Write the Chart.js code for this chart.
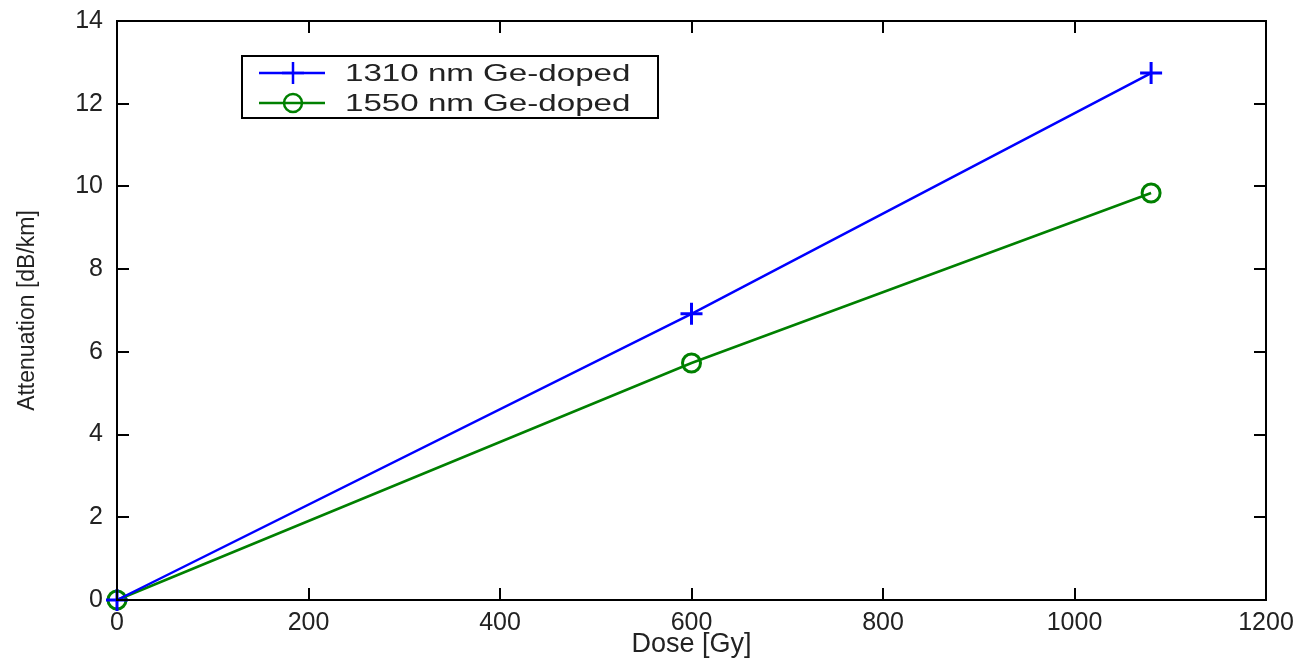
<!DOCTYPE html>
<html>
<head>
<meta charset="utf-8">
<script src="https://cdn.jsdelivr.net/npm/chart.js@4"></script>
<style>
  html, body { margin: 0; padding: 0; background: #fff; }
  #wrap { width: 1308px; height: 661px; }
</style>
</head>
<body>
<div id="wrap"><canvas id="chart"></canvas></div>
<script>
/* ===== DATA ===== */
const doses = [0, 600, 1080];
const att1310 = [0, 6.92, 12.74];
const att1550 = [0, 5.73, 9.84];
const seriesLabels = ["1310 nm Ge-doped", "1550 nm Ge-doped"];
const xTitle = "Dose [Gy]";
const yTitle = "Attenuation [dB/km]";

const FONT = "'Liberation Sans', Arial, sans-serif";
const TEXT = "#222";

function points(ys) {
  return doses.map((x, i) => ({ x, y: ys[i] }));
}

/* ===== frame with inward ticks on all sides (matlab style) ===== */
const framePlugin = {
  id: "frame",
  afterDraw(chart) {
    const { ctx, chartArea: a, scales } = chart;
    const len = 12;
    ctx.save();
    ctx.strokeStyle = "#000";
    ctx.lineWidth = 2;
    ctx.strokeRect(a.left, a.top, a.right - a.left, a.bottom - a.top);
    ctx.beginPath();
    scales.x.ticks.forEach(t => {
      const px = Math.round(scales.x.getPixelForValue(t.value));
      if (px <= a.left + 1 || px >= a.right - 1) return;
      ctx.moveTo(px, a.bottom); ctx.lineTo(px, a.bottom - len);
      ctx.moveTo(px, a.top); ctx.lineTo(px, a.top + len);
    });
    scales.y.ticks.forEach(t => {
      const py = Math.round(scales.y.getPixelForValue(t.value));
      if (py <= a.top + 1 || py >= a.bottom - 1) return;
      ctx.moveTo(a.left, py); ctx.lineTo(a.left + len, py);
      ctx.moveTo(a.right, py); ctx.lineTo(a.right - len, py);
    });
    ctx.stroke();
    ctx.restore();
  }
};

/* ===== boxed legend inside plot ===== */
const boxLegend = {
  id: "boxLegend",
  afterDraw(chart) {
    const ctx = chart.ctx;
    const box = { x: 242, y: 56, w: 416, h: 62 };
    ctx.save();
    ctx.fillStyle = "#fff";
    ctx.fillRect(box.x, box.y, box.w, box.h);
    ctx.strokeStyle = "#000";
    ctx.lineWidth = 2;
    ctx.strokeRect(box.x, box.y, box.w, box.h);

    chart.data.datasets.forEach((ds, i) => {
      const cy = 73 + i * 30;
      ctx.strokeStyle = ds.borderColor;
      ctx.lineWidth = ds.borderWidth;
      ctx.beginPath();
      ctx.moveTo(259, cy); ctx.lineTo(325, cy);
      ctx.stroke();
      ctx.fillStyle = "rgba(0,0,0,0)";
      Chart.helpers.drawPoint(ctx, {
        pointStyle: ds.pointStyle,
        radius: ds.pointRadius,
        borderWidth: ds.pointBorderWidth
      }, 293, cy);
      // text is drawn a bit stretched, like the original
      ctx.save();
      ctx.translate(345, cy + 1);
      ctx.scale(1.38, 1);
      ctx.fillStyle = TEXT;
      ctx.font = "24px " + FONT;
      ctx.textBaseline = "middle";
      ctx.fillText(ds.label, 0, 0);
      ctx.restore();
    });
    ctx.restore();
  }
};

/* ===== CHART ===== */
new Chart(document.getElementById("chart"), {
  type: "line",
  data: {
    datasets: [
      {
        label: seriesLabels[0],
        data: points(att1310),
        borderColor: "#0000ff",
        backgroundColor: "transparent",
        borderWidth: 2.5,
        pointStyle: "cross",
        pointRadius: 11,
        pointBorderWidth: 3,
        pointBorderColor: "#0000ff",
        clip: false,
        tension: 0
      },
      {
        label: seriesLabels[1],
        data: points(att1550),
        borderColor: "#008000",
        backgroundColor: "transparent",
        borderWidth: 2.5,
        pointStyle: "circle",
        pointRadius: 9,
        pointBorderWidth: 3,
        pointBorderColor: "#008000",
        clip: false,
        tension: 0
      }
    ]
  },
  options: {
    responsive: true,
    maintainAspectRatio: false,
    animation: false,
    layout: { padding: { left: 0, top: 21, right: 42, bottom: 0 } },
    plugins: {
      legend: { display: false },
      tooltip: { enabled: false }
    },
    scales: {
      x: {
        type: "linear",
        min: 0,
        max: 1200,
        grid: { display: false },
        border: { display: false },
        ticks: {
          stepSize: 200,
          color: TEXT,
          font: { family: FONT, size: 25 },
          padding: 0,
          maxRotation: 0,
          callback: v => String(v)
        },
        title: {
          display: true,
          text: xTitle,
          color: TEXT,
          font: { family: FONT, size: 27 },
          padding: { top: 0, bottom: 0 }
        },
        afterFit: s => { s.height = 61; }
      },
      y: {
        min: 0,
        max: 14,
        grid: { display: false },
        border: { display: false },
        ticks: {
          stepSize: 2,
          color: TEXT,
          font: { family: FONT, size: 25 },
          padding: 6,
          callback: v => String(v)
        },
        title: {
          display: true,
          text: yTitle,
          color: TEXT,
          font: { family: FONT, size: 23 },
          padding: { top: 14, bottom: 0 }
        },
        afterFit: s => { s.width = 117; }
      }
    }
  },
  plugins: [framePlugin, boxLegend]
});
</script>
</body>
</html>
